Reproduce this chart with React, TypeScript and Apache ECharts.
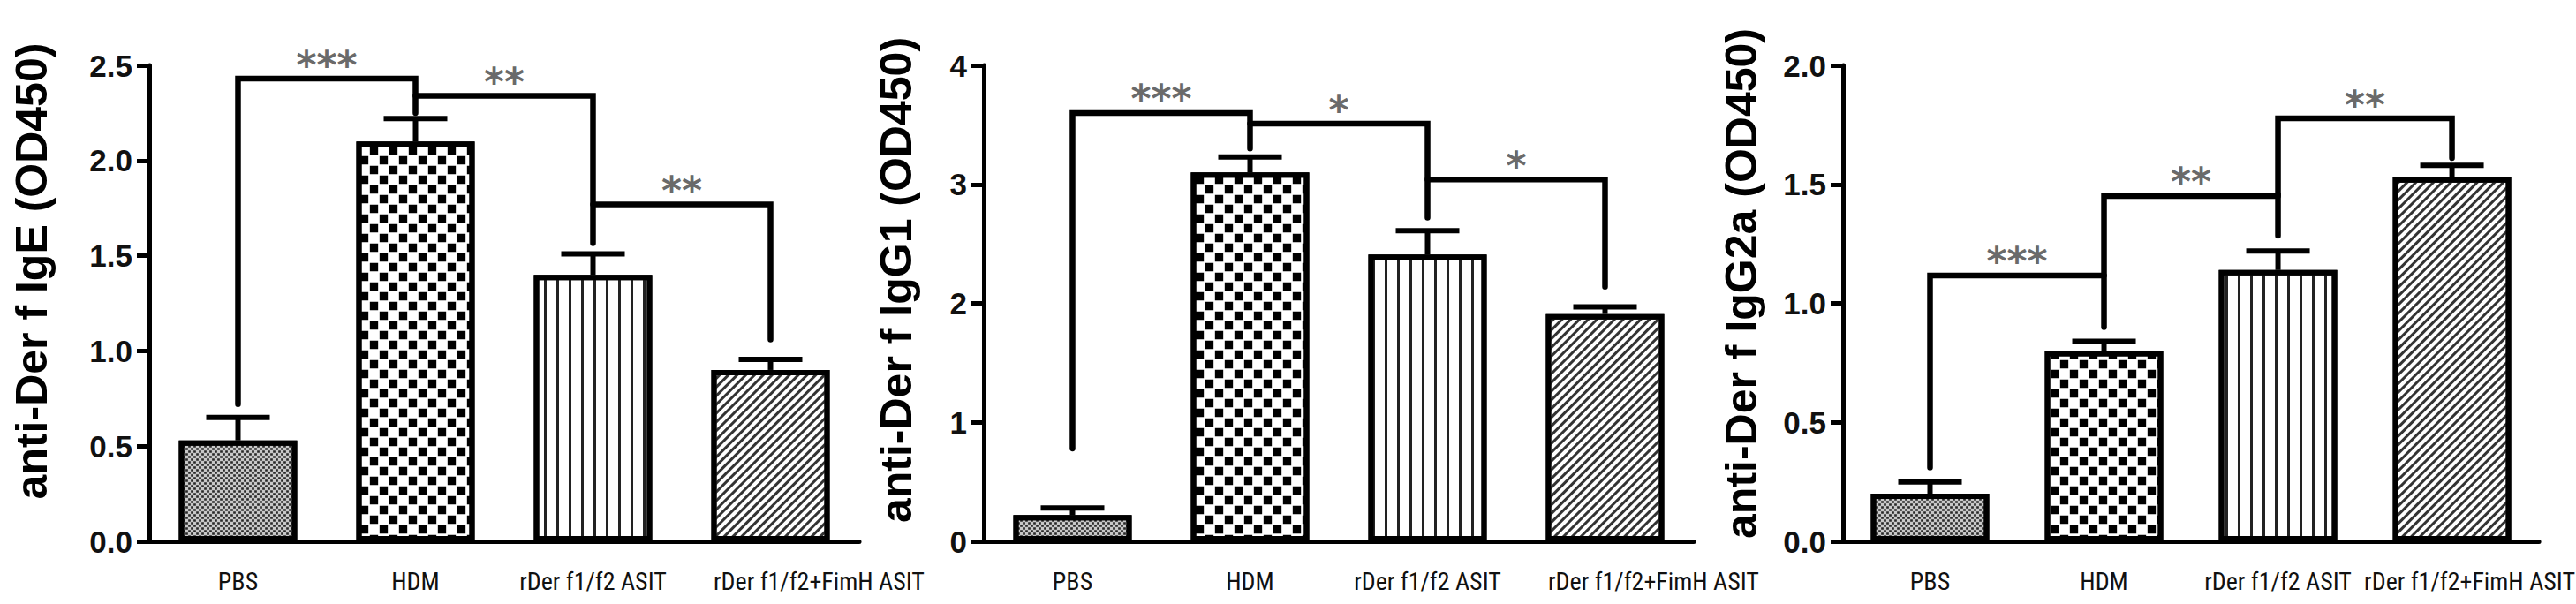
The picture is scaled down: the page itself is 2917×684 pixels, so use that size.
import React, { useEffect, useRef } from "react";
import * as echarts from "echarts";

// ---------- data ----------
const categories = ["PBS", "HDM", "rDer f1/f2 ASIT", "rDer f1/f2+FimH ASIT"];

const igeMeans = [0.53, 2.1, 1.4, 0.9];
const igeErrors = [0.12, 0.12, 0.11, 0.055];
const igg1Means = [0.22, 3.1, 2.41, 1.91];
const igg1Errors = [0.06, 0.13, 0.2, 0.06];
const igg2aMeans = [0.2, 0.8, 1.14, 1.53];
const igg2aErrors = [0.05, 0.04, 0.08, 0.05];

// brackets: [leftIndex, rightIndex, top, leftBottom, rightBottom]
const igeBrackets = [
  [0, 1, 2.43, 0.72, 2.25],
  [1, 2, 2.34, 2.34, 1.565],
  [2, 3, 1.77, 1.77, 1.06],
];
const igeStars = ["***", "**", "**"];
const igg1Brackets = [
  [0, 1, 3.6, 0.78, 3.3],
  [1, 2, 3.51, 3.51, 2.72],
  [2, 3, 3.04, 3.04, 2.14],
];
const igg1Stars = ["***", "*", "*"];
const igg2aBrackets = [
  [0, 1, 1.117, 0.31, 1.117],
  [1, 2, 1.451, 0.9, 1.284],
  [2, 3, 1.777, 1.451, 1.61],
];
const igg2aStars = ["***", "**", "**"];

const igeTicks = ["0.0", "0.5", "1.0", "1.5", "2.0", "2.5"];
const igg1Ticks = ["0", "1", "2", "3", "4"];
const igg2aTicks = ["0.0", "0.5", "1.0", "1.5", "2.0"];

const yTitles = ["anti-Der f IgE (OD450)", "anti-Der f IgG1 (OD450)", "anti-Der f IgG2a (OD450)"];

// ---------- styles ----------
const decals: any[] = [
  {
    symbol: "rect",
    symbolSize: 0.9,
    symbolKeepAspect: false,
    color: "rgba(0,0,0,0.8)",
    dashArrayX: [[3, 3], [0, 3, 3, 0]],
    dashArrayY: [3, 0],
  },
  {
    symbol: "rect",
    symbolSize: 0.85,
    symbolKeepAspect: false,
    color: "#000",
    dashArrayX: [[11, 11], [0, 11, 11, 0]],
    dashArrayY: [11, 0],
  },
  {
    symbol: "rect",
    symbolSize: 1,
    symbolKeepAspect: false,
    color: "#222",
    dashArrayX: [3, 10.5],
    dashArrayY: [40, 0],
  },
  {
    symbol: "rect",
    symbolSize: 1,
    symbolKeepAspect: false,
    color: "#333",
    dashArrayX: [2.5, 3.5],
    dashArrayY: [40, 0],
    rotation: Math.PI / 4,
  },
];
const fills = ["#c8c8c8", "#ffffff", "#ffffff", "#ffffff"];

const gridLefts = [169, 1114, 2087];
const gridTop = 74;
const gridHeight = 539;
const gridWidth = 804;
const longLabelPad = [110, 110, 40];

function buildPanel(
  p: number,
  means: number[],
  errors: number[],
  brackets: number[][],
  stars: string[],
  ticks: string[],
  max: number,
  interval: number
) {
  const grid = { left: gridLefts[p], top: gridTop, width: gridWidth, height: gridHeight };
  const xAxis = {
    type: "category",
    gridIndex: p,
    data: categories.map((c, i) =>
      i === 3 ? { value: c, textStyle: { padding: [0, 0, 0, longLabelPad[p]] } } : c
    ),
    axisLine: { lineStyle: { color: "#000", width: 5 } },
    axisTick: { alignWithLabel: true, length: 17, lineStyle: { color: "#000", width: 4 } },
    axisLabel: {
      margin: 31,
      fontSize: 28,
      color: "#111",
      fontFamily: "'Liberation Sans Narrow', 'Roboto Condensed', Roboto, sans-serif",
      interval: 0,
    },
  };
  const yAxis = {
    type: "value",
    gridIndex: p,
    min: 0,
    max,
    interval,
    splitLine: { show: false },
    axisLine: { show: true, lineStyle: { color: "#000", width: 5 } },
    axisTick: { show: true, length: 14, lineStyle: { color: "#000", width: 5 } },
    axisLabel: {
      margin: 19,
      fontSize: 35,
      fontWeight: "bold",
      color: "#111",
      fontFamily: "'Liberation Sans', Arial, sans-serif",
      formatter: (v: number) => ticks[Math.round(v / interval)] ?? String(v),
    },
  };
  const bar = {
    type: "bar",
    xAxisIndex: p,
    yAxisIndex: p,
    barWidth: 134,
    z: 2,
    data: means.map((m, i) => ({
      value: m,
      itemStyle: { color: fills[i], decal: decals[i], borderColor: "#000", borderWidth: 6 },
    })),
  };
  const err = {
    type: "custom",
    xAxisIndex: p,
    yAxisIndex: p,
    z: 3,
    data: means.map((m, i) => [i, m, m + errors[i]]),
    encode: { x: 0, y: [1, 2] },
    renderItem: (params: any, api: any) => {
      const base = api.coord([api.value(0), api.value(1)]);
      const top = api.coord([api.value(0), api.value(2)]);
      const st = { stroke: "#000", lineWidth: 6 };
      return {
        type: "group",
        children: [
          { type: "line", shape: { x1: base[0], y1: base[1], x2: top[0], y2: top[1] }, style: st },
          { type: "line", shape: { x1: top[0] - 36, y1: top[1], x2: top[0] + 36, y2: top[1] }, style: st },
        ],
      };
    },
  };
  const br = {
    type: "custom",
    xAxisIndex: p,
    yAxisIndex: p,
    z: 4,
    data: brackets,
    encode: { x: [0, 1], y: [2, 3, 4] },
    renderItem: (params: any, api: any) => {
      const l = api.value(0);
      const r = api.value(1);
      const a = api.coord([l, api.value(3)]);
      const b = api.coord([l, api.value(2)]);
      const c = api.coord([r, api.value(2)]);
      const d = api.coord([r, api.value(4)]);
      return {
        type: "group",
        children: [
          {
            type: "polyline",
            shape: { points: [a, b, c, d] },
            style: { stroke: "#000", lineWidth: 6.5, fill: null, lineJoin: "miter", lineCap: "round" },
          },
          {
            type: "text",
            style: {
              text: stars[params.dataIndex],
              x: (b[0] + c[0]) / 2,
              y: b[1] - 16,
              textAlign: "center",
              textVerticalAlign: "middle",
              font: "bold 44px 'DejaVu Sans'",
              fill: "#6a6a6a",
            },
          },
        ],
      };
    },
  };
  return { grid, xAxis, yAxis, series: [bar, err, br] };
}

export default function App() {
  const ref = useRef<HTMLDivElement>(null);
  useEffect(() => {
    if (!ref.current) return;
    const chart = echarts.init(ref.current, undefined, { renderer: "svg" });
    const panels = [
      buildPanel(0, igeMeans, igeErrors, igeBrackets, igeStars, igeTicks, 2.5, 0.5),
      buildPanel(1, igg1Means, igg1Errors, igg1Brackets, igg1Stars, igg1Ticks, 4, 1),
      buildPanel(2, igg2aMeans, igg2aErrors, igg2aBrackets, igg2aStars, igg2aTicks, 2, 0.5),
    ];
    const titleX = [36, 1015, 1972];
    const titleY = [307, 317, 321];
    chart.setOption({
      animation: false,
      backgroundColor: "#fff",
      grid: panels.map((q) => q.grid),
      xAxis: panels.map((q) => q.xAxis),
      yAxis: panels.map((q) => q.yAxis),
      series: panels.flatMap((q) => q.series),
      graphic: yTitles.map((t, i) => ({
        type: "text",
        x: titleX[i],
        y: titleY[i],
        rotation: Math.PI / 2,
        style: {
          text: t,
          x: 0,
          y: 0,
          textAlign: "center",
          textVerticalAlign: "middle",
          font: "bold 50px 'Liberation Sans', Arial, sans-serif",
          fill: "#000",
        },
      })),
    });
    return () => chart.dispose();
  }, []);
  return (
    <div
      ref={ref}
      style={{ position: "fixed", left: 0, top: 0, width: 2917, height: 684, background: "#fff" }}
    />
  );
}
